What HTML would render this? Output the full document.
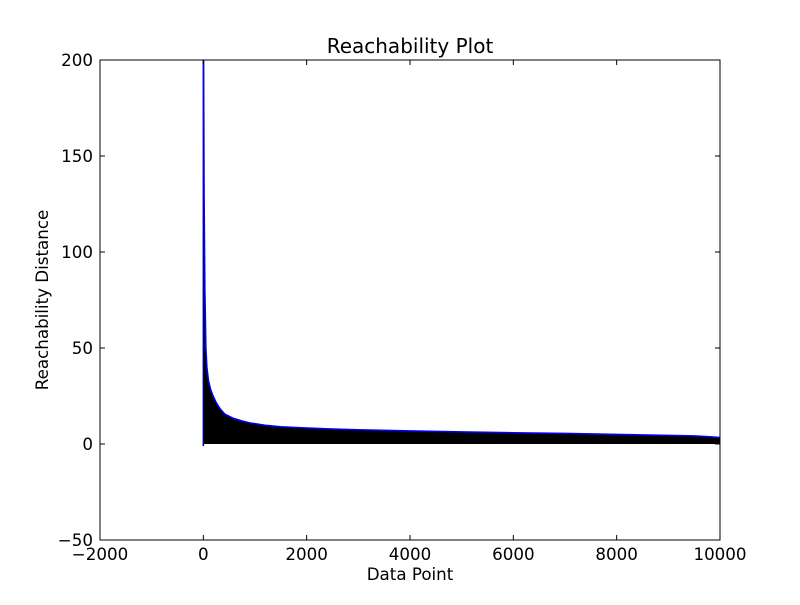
<!DOCTYPE html>
<html><head><meta charset="utf-8"><style>
body{margin:0;background:#fff}
svg text{font-family:"DejaVu Sans","Liberation Sans",sans-serif;fill:#000}
</style></head><body>
<svg id="chart" width="800" height="600" xmlns="http://www.w3.org/2000/svg">
<rect width="800" height="600" fill="#fff"/>
<g id="plot"></g>
<g id="axes"></g>
<text x="410" y="53" font-size="20" text-anchor="middle">Reachability Plot</text>
<text x="410" y="580" font-size="16.7" text-anchor="middle">Data Point</text>
<text x="48" y="300" font-size="16.7" text-anchor="middle" transform="rotate(-90 48 300)">Reachability Distance</text>
</svg>
<script>
const pointIndex = [0, 5, 15, 30, 50, 70, 100, 140, 190, 250, 320, 420, 570, 750, 900, 1200, 1500, 1900, 2500, 3000, 4000, 5000, 6000, 7000, 8000, 9000, 9500, 9800, 10000];
const reachability = [230, 200, 130, 80, 50, 40, 33, 28.5, 25, 21.5, 18.5, 15.5, 13.5, 12, 11, 9.8, 9, 8.5, 7.8, 7.4, 6.8, 6.3, 5.9, 5.5, 5.0, 4.5, 4.2, 3.8, 3.4];
const xTicks = [-2000, 0, 2000, 4000, 6000, 8000, 10000];
const yTicks = [-50, 0, 50, 100, 150, 200];
const L=100,R=720,T=60,B=540,xMin=-2000,xMax=10000,yMin=-50,yMax=200;
const sx=v=>L+(v-xMin)/(xMax-xMin)*(R-L);
const sy=v=>B-(v-yMin)/(yMax-yMin)*(B-T);
const NS="http://www.w3.org/2000/svg";
function mk(tag,attrs,parent){const e=document.createElementNS(NS,tag);for(const k in attrs)e.setAttribute(k,attrs[k]);parent.appendChild(e);return e;}
const plot=document.getElementById('plot'),axes=document.getElementById('axes');
mk('clipPath',{id:'clip'},plot);
mk('rect',{x:L,y:T,width:R-L,height:B-T},document.getElementById('clip'));
const g=mk('g',{'clip-path':'url(#clip)'},plot);
let pts=pointIndex.map((x,i)=>sx(x).toFixed(1)+','+sy(reachability[i]).toFixed(1));
let area=mk('polygon',{points:sx(0)+','+sy(0)+' '+pts.join(' ')+' '+sx(10000)+','+sy(0),fill:'#000'},g);


let vline=mk('line',{x1:sx(0),x2:sx(0),y1:sy(0)+2,y2:T,stroke:'#00008b','stroke-width':1.5},g);


let line=mk('polyline',{points:pts.join(' '),fill:'none',stroke:'#0000ff','stroke-width':1.5},g);


let frame=mk('rect',{x:L,y:T,width:R-L,height:B-T,fill:'none',stroke:'#000','stroke-width':1},axes);


xTicks.forEach(v=>{const x=sx(v);
mk('line',{x1:x,x2:x,y1:B,y2:B-5,stroke:'#000'},axes);
mk('line',{x1:x,x2:x,y1:T,y2:T+5,stroke:'#000'},axes);
const t=mk('text',{x:x,y:B+20,'font-size':16.7,'text-anchor':'middle'},axes);
t.textContent=v<0?'\u2212'+(-v):String(v);

});
yTicks.forEach(v=>{const y=sy(v);
mk('line',{x1:L,x2:L+5,y1:y,y2:y,stroke:'#000'},axes);
mk('line',{x1:R,x2:R-5,y1:y,y2:y,stroke:'#000'},axes);
const t=mk('text',{x:L-7,y:y+6,'font-size':16.7,'text-anchor':'end'},axes);
t.textContent=v<0?'\u2212'+(-v):String(v);

});
</script>
</body></html>
